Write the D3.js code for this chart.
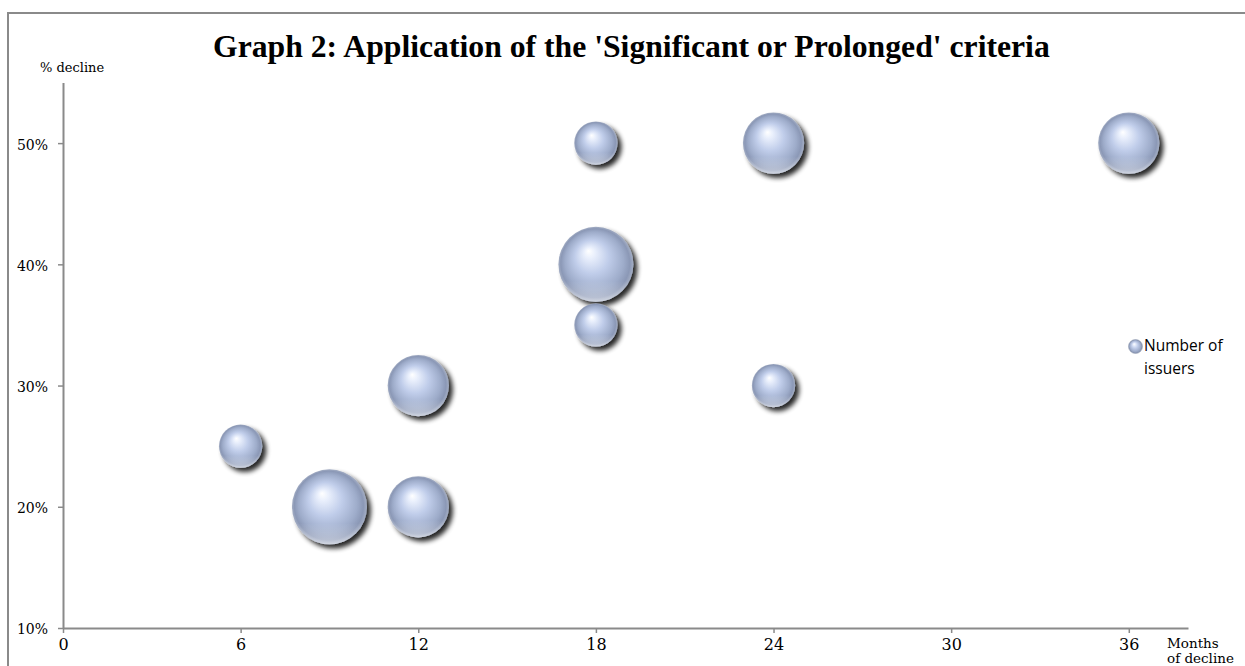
<!DOCTYPE html>
<html>
<head>
<meta charset="utf-8">
<script src="https://cdn.jsdelivr.net/npm/d3@7"></script>
<style>
  html, body { margin: 0; padding: 0; background: #fff; overflow: hidden; }
  svg { display: block; }
</style>
</head>
<body>
<svg id="chart" width="1245" height="666"></svg>
<script>
// ---- Data ----
const months  = [6, 9, 12, 12, 18, 18, 18, 24, 24, 36];
const decline = [0.25, 0.20, 0.20, 0.30, 0.40, 0.35, 0.50, 0.50, 0.30, 0.50];
const issuers = [1, 3, 2, 2, 3, 1, 1, 2, 1, 2];
const xTicks = [0, 6, 12, 18, 24, 30, 36];
const yTicks = [0.10, 0.20, 0.30, 0.40, 0.50];
const titleText = "Graph 2: Application of the 'Significant or Prolonged' criteria";
const seriesName = ["Number of", "issuers"];

const svg = d3.select("#chart");

// ---- Defs: sphere gradient, reflection, shadow ----
const defs = svg.append("defs");
const g1 = defs.append("radialGradient").attr("id", "ball")
  .attr("cx", "50%").attr("cy", "50%").attr("r", "50%")
  .attr("fx", "40%").attr("fy", "32%");
[[0, "#ffffff"], [0.15, "#e9effc"], [0.45, "#c0cdea"], [0.78, "#9eacca"], [0.92, "#8b98b6"], [1, "#a4aec4"]]
  .forEach(([o, c]) => g1.append("stop").attr("offset", o).attr("stop-color", c));
const g2 = defs.append("linearGradient").attr("id", "refl")
  .attr("x1", 0).attr("y1", 0).attr("x2", 0).attr("y2", 1);
[[0, 0], [0.72, 0], [0.9, 0.3], [1, 0.5]]
  .forEach(([o, a]) => g2.append("stop").attr("offset", o).attr("stop-color", "#ffffff").attr("stop-opacity", a));
const f = defs.append("filter").attr("id", "shadow")
  .attr("x", "-30%").attr("y", "-30%").attr("width", "170%").attr("height", "170%");
f.append("feGaussianBlur").attr("in", "SourceAlpha").attr("stdDeviation", 2.6).attr("result", "b");
f.append("feOffset").attr("in", "b").attr("dx", 3.5).attr("dy", 4).attr("result", "o");
const ct = f.append("feComponentTransfer").attr("in", "o").attr("result", "s");
ct.append("feFuncA").attr("type", "linear").attr("slope", 0.85);
const m = f.append("feMerge");
m.append("feMergeNode").attr("in", "s");
m.append("feMergeNode").attr("in", "SourceGraphic");

// ---- Border ----
svg.append("rect").attr("x", 8).attr("y", 13).attr("width", 1400).attr("height", 800)
  .attr("fill", "none").attr("stroke", "#8a8a8a").attr("stroke-width", 2);

// ---- Scales ----
const x = d3.scaleLinear().domain([0, 38]).range([63, 1188]);
const y = d3.scaleLinear().domain([0.10, 0.55]).range([628, 82.5]);
const r = d3.scaleSqrt().domain([0, 3]).range([0, 37.5]);

const axisColor = "#8a8a8a";

// ---- Axes ----
const xAxis = svg.append("g").attr("transform", `translate(0,${y(0.10)})`)
  .call(d3.axisBottom(x).tickValues(xTicks).tickFormat(d3.format("d")).tickSize(5).tickSizeOuter(0));
xAxis.select(".domain").attr("stroke", axisColor).attr("stroke-width", 2);
xAxis.selectAll(".tick line").attr("stroke", axisColor).attr("stroke-width", 1.5);
xAxis.selectAll(".tick text").attr("y", 22).attr("dy", 0)
  .attr("fill", "#000").style("font-family", "'DejaVu Serif', serif").style("font-size", "16px");

const yAxis = svg.append("g").attr("transform", `translate(${x(0)},0)`)
  .call(d3.axisLeft(y).tickValues(yTicks).tickFormat(d3.format(".0%")).tickSize(5).tickPadding(10).tickSizeOuter(0));
yAxis.select(".domain").attr("stroke", axisColor).attr("stroke-width", 2);
yAxis.selectAll(".tick line").attr("stroke", axisColor).attr("stroke-width", 1.5);
yAxis.selectAll(".tick text").attr("dy", "0.42em")
  .attr("fill", "#000").style("font-family", "'DejaVu Serif', serif").style("font-size", "14px");

// ---- Axis titles ----
svg.append("text").attr("x", 40).attr("y", 72)
  .style("font-family", "'DejaVu Serif', serif").style("font-size", "13px").text("% decline");
const xt = svg.append("text").attr("x", 1167).attr("y", 648)
  .style("font-family", "'DejaVu Serif', serif").style("font-size", "13.5px");
xt.append("tspan").attr("x", 1167).text("Months");
xt.append("tspan").attr("x", 1167).attr("dy", 15).text("of decline");

// ---- Title (fitted to reference width) ----
const title = svg.append("text").attr("x", 213).attr("y", 57)
  .style("font-family", "'Liberation Serif', serif").style("font-weight", "bold")
  .style("font-size", "28px").text(titleText);
const tl = title.node().getComputedTextLength();
title.style("font-size", (28 * 837 / tl) + "px");

// ---- Bubbles ----
const data = months.map((mo, i) => ({ m: mo, d: decline[i], n: issuers[i] }));
const bubbles = svg.append("g");
data.forEach(p => {
  const g = bubbles.append("g").attr("filter", "url(#shadow)");
  g.append("circle").attr("cx", x(p.m)).attr("cy", y(p.d)).attr("r", r(p.n)).attr("fill", "url(#ball)");
  g.append("circle").attr("cx", x(p.m)).attr("cy", y(p.d)).attr("r", r(p.n)).attr("fill", "url(#refl)");
});

// ---- Legend ----
const lg = svg.append("g");
lg.append("circle").attr("cx", 1135.5).attr("cy", 346.5).attr("r", 7).attr("fill", "url(#ball)")
  .attr("stroke", "#7f8aa3").attr("stroke-width", 0.5);
const lt = lg.append("text").attr("x", 1144).attr("y", 351)
  .style("font-family", "'Open Sans', sans-serif").style("font-size", "15.5px").attr("fill", "#000");
lt.append("tspan").attr("x", 1144).text(seriesName[0]);
lt.append("tspan").attr("x", 1144).attr("dy", 22.5).text(seriesName[1]);
</script>
</body>
</html>
